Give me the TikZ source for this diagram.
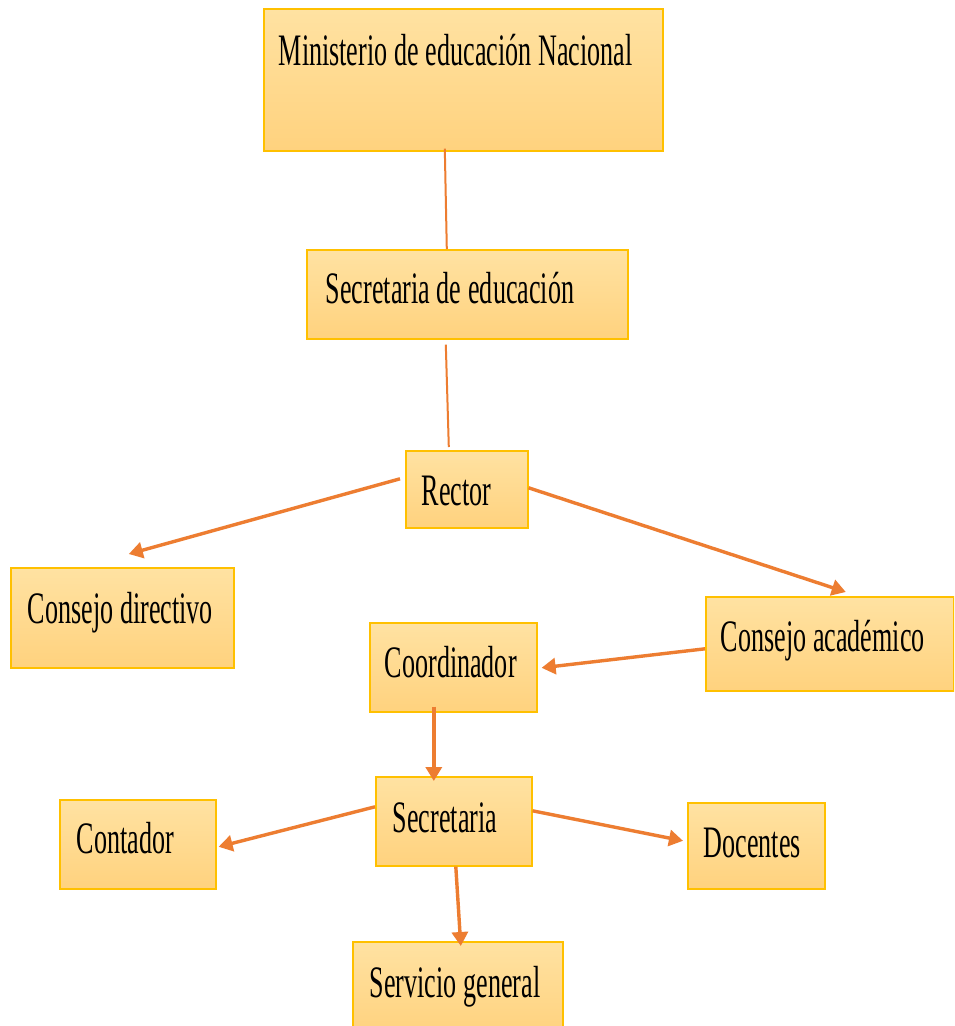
\documentclass[tikz,border=0pt]{standalone}
\usepackage{fontspec}
\setmainfont{Liberation Serif}[FakeStretch=0.58]
\usetikzlibrary{arrows.meta,calc}
\definecolor{boxline}{RGB}{255,192,0}
\definecolor{boxtop}{RGB}{255,226,162}
\definecolor{boxbot}{RGB}{255,210,126}
\definecolor{conn}{RGB}{237,125,49}
\newcommand\orgfont{\fontsize{45}{54}\selectfont}
\newcommand\orgtext[1]{\mbox{\spaceskip=6.8pt\relax #1}}
\begin{document}
\begin{tikzpicture}[x=1pt,y=-1pt,
  orgbox/.style={draw=boxline,line width=1.6pt,top color=boxtop,bottom color=boxbot,
    anchor=north west,inner ysep=0pt,font=\orgfont},
  link/.style={draw=conn,line width=2pt},
  arr/.style={draw=conn,line width=3.4pt,-{Triangle[length=14pt,width=16pt]}}]
\clip (0,0) rectangle (954,1026);
\useasboundingbox (0,0) rectangle (954,1026);
\fill[white] (0,0) rectangle (954,1026);
\node[orgbox,inner xsep=15pt,text width=369pt,text height=57pt,text depth=85pt] (min) at (263,8) {\orgtext{Ministerio de educación Nacional}};
\node[orgbox,inner xsep=19pt,text width=283pt,text height=54pt,text depth=35pt] (sed) at (306,249) {\orgtext{Secretaria de educación}};
\node[orgbox,inner xsep=16pt,text width=90pt,text height=55pt,text depth=22pt] (rector) at (405,450) {\orgtext{Rector}};
\node[orgbox,inner xsep=17pt,text width=189pt,text height=56pt,text depth=44pt] (cdir) at (10,567) {\orgtext{Consejo directivo}};
\node[orgbox,inner xsep=15pt,text width=218pt,text height=55pt,text depth=39pt] (cacad) at (705,596) {\orgtext{Consejo académico}};
\node[orgbox,inner xsep=15pt,text width=137pt,text height=55pt,text depth=34pt] (coord) at (369,622) {\orgtext{Coordinador}};
\node[orgbox,inner xsep=17pt,text width=122pt,text height=56pt,text depth=33pt] (sec) at (375,776) {\orgtext{Secretaria}};
\node[orgbox,inner xsep=17pt,text width=122pt,text height=54pt,text depth=35pt] (cont) at (59,799) {\orgtext{Contador}};
\node[orgbox,inner xsep=16pt,text width=105pt,text height=55pt,text depth=31pt] (doc) at (687,802) {\orgtext{Docentes}};
\node[orgbox,inner xsep=17pt,text width=176pt,text height=56pt,text depth=37pt] (serv) at (352,941) {\orgtext{Servicio general}};
\draw[link] ($(min.south)+(-18.5,-3)$) -- ($(sed.north)+(-20.5,0)$);
\draw[link] ($(sed.south)+(-21.5,5)$) -- ($(rector.north)+(-18,-3)$);
\draw[arr] ($(rector.west)+(-5,-10.5)$) -- ($(cdir.north)+(6.5,-13)$);
\draw[arr] ($(rector.east)+(0,-1.5)$) -- ($(cacad.north)+(16,-4)$);
\draw[arr] ($(cacad.west)+(0,5)$) -- ($(coord.east)+(4,0.5)$);
\draw[arr] ($(coord.south)+(-19.5,-6)$) -- ($(sec.north)+(-20,5)$);
\draw[arr] ($(sec.west)+(0,-14.5)$) -- ($(cont.east)+(2,2.5)$);
\draw[arr] ($(sec.east)+(0,-10.5)$) -- ($(doc.west)+(-4,-5)$);
\draw[arr] ($(sec.south)+(2,0)$) -- ($(serv.north)+(3,5)$);
\end{tikzpicture}
\end{document}
